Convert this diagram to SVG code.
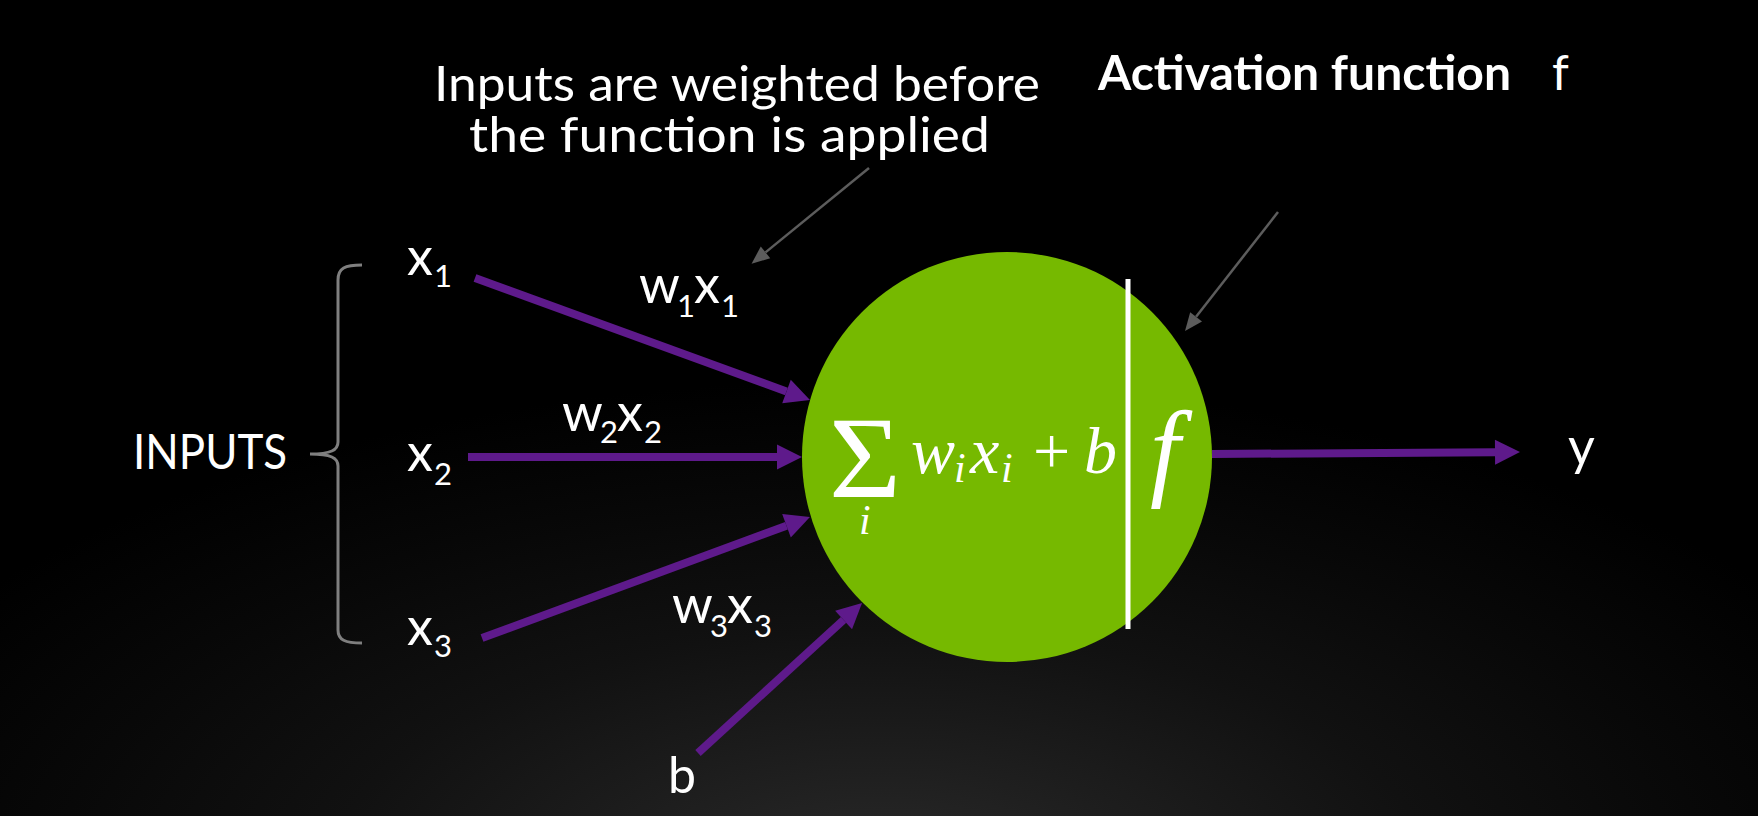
<svg xmlns="http://www.w3.org/2000/svg" width="1758" height="816" viewBox="0 0 1758 816">
<defs>
<radialGradient id="bg" gradientUnits="userSpaceOnUse" cx="880" cy="880" r="500" gradientTransform="translate(880 880) scale(2.2 1) translate(-880 -880)">
<stop offset="0" stop-color="#2a2a2a"/>
<stop offset="0.5" stop-color="#111111"/>
<stop offset="0.75" stop-color="#080808"/>
<stop offset="1" stop-color="#000000"/>
</radialGradient>
<marker id="ph" markerUnits="userSpaceOnUse" markerWidth="26" markerHeight="26" refX="0" refY="12.5" orient="auto" overflow="visible">
<path d="M0,0 L25,12.5 L0,25 Z" fill="#5e1a8b"/>
</marker>
<marker id="gh" markerUnits="userSpaceOnUse" markerWidth="20" markerHeight="16" refX="0" refY="7.5" orient="auto" overflow="visible">
<path d="M0,0 L18,7.5 L0,15 Z" fill="#5c5c5c"/>
</marker>
</defs>
<style>
.t{fill:#ffffff;font-family:Lato,"Open Sans",sans-serif;}
.m{fill:#ffffff;font-family:"Liberation Serif","Times New Roman",serif;font-style:italic;}
.n{fill:#ffffff;font-family:"Liberation Serif","Times New Roman",serif;font-style:normal;}
.p{stroke:#5e1a8b;stroke-width:8;fill:none;marker-end:url(#ph);}
.g{stroke:#5c5c5c;stroke-width:2.5;fill:none;marker-end:url(#gh);}
</style>
<rect x="0" y="0" width="1758" height="816" fill="url(#bg)"/>

<g id="neuron">
<circle cx="1007" cy="457" r="205" fill="#76b900"/>
<rect x="1125.5" y="279" width="5" height="350" fill="#ffffff"/>
<text class="n" x="829" y="497" font-size="116" textLength="72" lengthAdjust="spacingAndGlyphs">Σ</text>
<text class="m" x="859" y="534" font-size="42">i</text>
<text class="m" x="911" y="473" font-size="66">w</text>
<text class="m" x="954" y="482" font-size="42">i</text>
<text class="m" x="970" y="473" font-size="66">x</text>
<text class="m" x="1001" y="482" font-size="42">i</text>
<text class="n" x="1033" y="473" font-size="66">+</text>
<text class="m" x="1084" y="473" font-size="66">b</text>
<text class="m" x="1150" y="486" font-size="108">f</text>
</g>

<g id="title-weights">
<text class="t" x="434" y="101" font-size="49" textLength="606" lengthAdjust="spacingAndGlyphs">Inputs are weighted before</text>
<text class="t" x="469" y="152" font-size="49" textLength="521" lengthAdjust="spacingAndGlyphs">the function is applied</text>
</g>

<g id="title-activation">
<text class="t" x="1098" y="90" font-size="48" font-weight="bold" textLength="413" lengthAdjust="spacingAndGlyphs">Activation function</text>
<text class="t" x="1552" y="90" font-size="48">f</text>
</g>

<g id="inputs">
<text class="t" x="133" y="469" font-size="48" textLength="154" lengthAdjust="spacingAndGlyphs">INPUTS</text>
<path d="M362,265 C345,265 338,268 338,280 L338,442 C338,450 331,454 310,454 C331,454 338,458 338,466 L338,630 C338,640 345,643 362,643" stroke="#7f7f7f" stroke-width="3" fill="none"/>
</g>

<g id="x1"><text class="t" x="407" y="275" font-size="52">x</text><text class="t" x="434" y="287" font-size="31">1</text></g>
<g id="x2"><text class="t" x="407" y="471" font-size="52">x</text><text class="t" x="434" y="485" font-size="31">2</text></g>
<g id="x3"><text class="t" x="407" y="645" font-size="52">x</text><text class="t" x="434" y="657" font-size="31">3</text></g>

<g id="w1x1"><text class="t" x="639" y="303" font-size="52">w</text><text class="t" x="677" y="317" font-size="31">1</text><text class="t" x="694" y="303" font-size="52">x</text><text class="t" x="721" y="317" font-size="31">1</text></g>
<g id="w2x2"><text class="t" x="562" y="431" font-size="52">w</text><text class="t" x="600" y="443" font-size="31">2</text><text class="t" x="617" y="431" font-size="52">x</text><text class="t" x="644" y="443" font-size="31">2</text></g>
<g id="w3x3"><text class="t" x="672" y="623" font-size="52">w</text><text class="t" x="710" y="637" font-size="31">3</text><text class="t" x="727" y="623" font-size="52">x</text><text class="t" x="754" y="637" font-size="31">3</text></g>

<g id="bias"><text class="t" x="668" y="793" font-size="50">b</text></g>
<g id="output"><text class="t" x="1568" y="465" font-size="52">y</text></g>

<g id="connectors">
<line class="p" x1="475" y1="278" x2="786.5" y2="391.4"/>
<line class="p" x1="468" y1="457" x2="777" y2="457"/>
<line class="p" x1="482" y1="638" x2="786.5" y2="525.7"/>
<line class="p" x1="698" y1="753" x2="843.6" y2="619.9"/>
<line class="p" x1="1212" y1="454" x2="1495" y2="452.2"/>
<line class="g" x1="869" y1="168" x2="765.5" y2="252.4"/>
<line class="g" x1="1278" y1="212" x2="1196.1" y2="316.8"/>
</g>
</svg>
